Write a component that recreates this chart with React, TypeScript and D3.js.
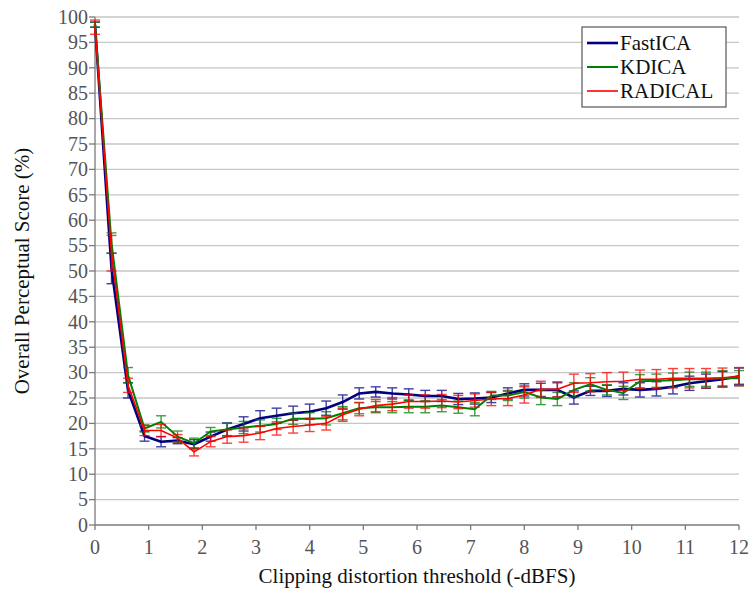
import React from "react";
import * as d3 from "d3";

const N = 40;
const xValues = Array.from({ length: N }, (_, i) => (i * 12) / (N - 1));

const fastICA = [98.5, 50.5, 26.5, 17.5, 16.4, 16.6, 15.9, 17.4, 18.8, 19.9, 21.0, 21.5, 22.0, 22.3, 23.0, 24.2, 25.9, 26.2, 25.9, 25.7, 25.4, 25.4, 24.8, 24.9, 25.1, 25.9, 26.6, 26.6, 26.6, 25.1, 26.4, 26.4, 26.8, 26.6, 26.8, 27.2, 27.9, 28.3, 28.7, 29.3];
const fastICAErr = [0.5, 3.0, 1.5, 1.0, 1.0, 0.6, 0.9, 0.9, 1.3, 1.4, 1.5, 1.5, 1.4, 1.5, 1.4, 1.4, 1.1, 1.0, 1.1, 1.1, 1.1, 1.1, 1.1, 1.1, 1.0, 1.1, 1.2, 1.3, 1.4, 1.3, 0.9, 1.1, 1.2, 1.4, 1.4, 1.4, 1.4, 1.4, 1.5, 1.6];

const kdICA = [98.5, 55.5, 29.5, 19.0, 20.3, 17.4, 16.1, 18.4, 18.8, 19.2, 19.5, 19.9, 20.9, 20.9, 21.0, 22.0, 23.0, 23.2, 23.2, 23.3, 23.3, 23.5, 23.2, 22.8, 25.5, 25.5, 26.2, 25.1, 24.8, 26.6, 27.7, 26.6, 26.0, 28.3, 28.4, 28.5, 28.7, 28.7, 28.9, 28.9];
const kdICAErr = [0.5, 2.0, 1.5, 0.7, 1.2, 1.1, 1.0, 0.8, 1.2, 1.2, 1.2, 1.1, 1.1, 1.2, 1.3, 1.3, 1.1, 1.1, 1.1, 1.2, 1.2, 1.2, 1.2, 1.3, 0.8, 1.0, 1.2, 1.4, 1.3, 1.4, 1.3, 1.0, 1.3, 1.3, 1.3, 1.4, 1.4, 1.4, 1.5, 1.5];

const radical = [98.0, 53.5, 27.5, 18.6, 18.6, 17.1, 14.4, 16.4, 17.4, 17.6, 18.1, 19.0, 19.4, 19.7, 20.0, 21.7, 22.8, 23.5, 23.8, 24.3, 24.3, 24.4, 24.2, 24.5, 24.8, 24.9, 25.6, 26.7, 26.7, 27.9, 28.0, 28.2, 28.3, 28.7, 28.7, 28.9, 28.9, 28.9, 29.0, 29.2];
const radicalErr = [1.4, 3.5, 1.4, 1.0, 1.2, 0.7, 0.8, 1.0, 1.3, 1.3, 1.3, 1.3, 1.3, 1.3, 1.3, 1.3, 1.3, 1.2, 1.3, 1.3, 1.3, 1.3, 1.3, 1.3, 1.3, 1.4, 1.6, 1.6, 1.5, 1.8, 1.8, 1.8, 1.8, 1.8, 1.9, 1.9, 1.9, 1.9, 1.9, 1.8];

const seriesNames = ["FastICA", "KDICA", "RADICAL"];
const seriesColors = ["#000080", "#008000", "#ff0000"];
const seriesWidths = [2.6, 2, 1.6];
const seriesValues = [fastICA, kdICA, radical];
const seriesErrors = [fastICAErr, kdICAErr, radicalErr];

const xTicks = [0, 1, 2, 3, 4, 5, 6, 7, 8, 9, 10, 11, 12];
const yTicks = d3.range(0, 101, 5);

const xTitle = "Clipping distortion threshold (-dBFS)";
const yTitle = "Overall Perceptual Score (%)";

const W = 751;
const H = 590;
const left = 95;
const right = 739;
const top = 17;
const bottom = 525;
const FONT = "'Liberation Serif', 'Times New Roman', Times, 'DejaVu Serif', 'Noto Serif', serif";

export default function App() {
  const x = d3.scaleLinear().domain([0, 12]).range([left, right]);
  const y = d3.scaleLinear().domain([0, 100]).range([bottom, top]);
  const line = d3
    .line<number>()
    .x((_, i) => x(xValues[i]))
    .y((d) => y(d));

  const tstyle = { fontFamily: FONT };

  return (
    <svg
      width={W}
      height={H}
      style={{ position: "absolute", left: 0, top: 0, background: "#fff", fontFamily: FONT }}
    >
      {yTicks
        .filter((t) => t > 0)
        .map((t) => (
          <line key={"g" + t} x1={left} x2={right} y1={y(t)} y2={y(t)} stroke="#c6c6c6" strokeWidth={1.3} />
        ))}
      <line x1={left} x2={left} y1={top} y2={bottom} stroke="#7a7a7a" strokeWidth={1.3} />
      {yTicks.map((t) => (
        <g key={"yt" + t}>
          <line x1={left - 6} x2={left} y1={y(t)} y2={y(t)} stroke="#7a7a7a" strokeWidth={1.3} />
          <text x={left - 7} y={y(t)} dy="0.34em" textAnchor="end" fontSize={20} fill="#555" style={tstyle}>
            {t}
          </text>
        </g>
      ))}
      <line x1={left} x2={right} y1={bottom} y2={bottom} stroke="#7a7a7a" strokeWidth={1.3} />
      {xTicks.map((t) => (
        <g key={"xt" + t}>
          <line x1={x(t)} x2={x(t)} y1={bottom} y2={bottom + 5} stroke="#7a7a7a" strokeWidth={1.3} />
          <text x={x(t)} y={554} textAnchor="middle" fontSize={20} fill="#555" style={tstyle}>
            {t}
          </text>
        </g>
      ))}
      {seriesValues.map((vals, si) => (
        <g key={"s" + si}>
          {vals.map((v, i) => {
            const e = seriesErrors[si][i];
            const cx = x(xValues[i]);
            return (
              <g key={"e" + i} stroke={seriesColors[si]} strokeWidth={1.4} opacity={0.75}>
                <line x1={cx} x2={cx} y1={y(v - e)} y2={y(v + e)} />
                <line x1={cx - 5} x2={cx + 5} y1={y(v - e)} y2={y(v - e)} />
                <line x1={cx - 5} x2={cx + 5} y1={y(v + e)} y2={y(v + e)} />
              </g>
            );
          })}
          <path d={line(vals) || ""} fill="none" stroke={seriesColors[si]} strokeWidth={seriesWidths[si]} strokeLinejoin="round" />
        </g>
      ))}
      <g>
        <rect x={582} y={27} width={144} height={80} fill="#fff" stroke="#555" strokeWidth={1.2} />
        {seriesNames.map((name, i) => (
          <g key={"l" + i}>
            <line x1={587} x2={618} y1={43 + i * 24} y2={43 + i * 24} stroke={seriesColors[i]} strokeWidth={seriesWidths[i]} />
            <text x={620} y={43 + i * 24} dy="0.34em" fontSize={21} fill="#111" style={tstyle}>
              {name}
            </text>
          </g>
        ))}
      </g>
      <text x={(left + right) / 2} y={583} textAnchor="middle" fontSize={21} fill="#111" style={tstyle}>
        {xTitle}
      </text>
      <text
        transform={`translate(29, ${(top + bottom) / 2}) rotate(-90)`}
        textAnchor="middle"
        fontSize={21}
        fill="#111"
        style={tstyle}
      >
        {yTitle}
      </text>
    </svg>
  );
}
